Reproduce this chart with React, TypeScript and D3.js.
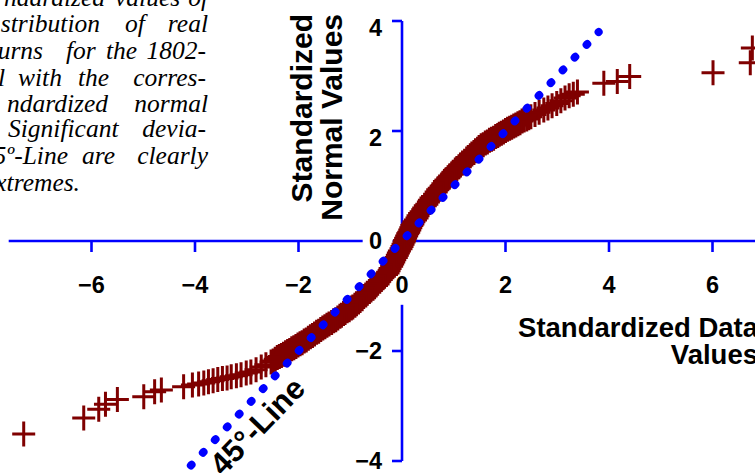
import * as d3 from 'd3'

// sorted standardized data values against the standardized normal values
const dataValues = [
  -7.31, -6.15, -5.86, -5.73, -5.5, -4.99, -4.78, -4.65, -4.22,
  -4.05, -3.93, -3.83, -3.74, -3.65, -3.56, -3.47, -3.38, -3.3, -3.2, -3.11, -3.01, -2.92,
  -2.82, -2.72, -2.63,
  -2.53, -2.49, -2.45, -2.41, -2.37, -2.33, -2.29, -2.25, -2.21, -2.17, -2.13, -2.09,
  -2.05, -2.01, -1.97, -1.93, -1.89, -1.85, -1.81, -1.77, -1.73, -1.69, -1.65, -1.61,
  -1.57, -1.53, -1.49, -1.45, -1.41, -1.36, -1.32, -1.28, -1.24, -1.2, -1.17, -1.13,
  -1.1, -1.06, -1.02, -0.98, -0.95, -0.91, -0.88, -0.84, -0.81, -0.77, -0.74, -0.7,
  -0.67, -0.63, -0.6, -0.56, -0.53, -0.5, -0.47, -0.43, -0.4, -0.37, -0.34, -0.3,
  -0.27, -0.25, -0.23, -0.2, -0.18, -0.16, -0.14, -0.11, -0.09, -0.07, -0.05, -0.02,
  0.0, 0.02, 0.04, 0.05, 0.07, 0.09, 0.11, 0.13, 0.15, 0.17, 0.19, 0.21, 0.23, 0.26,
  0.29, 0.31, 0.34, 0.37, 0.4, 0.42, 0.45, 0.48, 0.51, 0.53, 0.56, 0.59, 0.63, 0.66,
  0.69, 0.72, 0.76, 0.79, 0.82, 0.85, 0.89, 0.92, 0.96, 0.99, 1.03, 1.06, 1.1, 1.13,
  1.17, 1.21, 1.25, 1.28, 1.32, 1.35, 1.39, 1.42, 1.46, 1.49, 1.53, 1.57, 1.61, 1.65,
  1.69, 1.73, 1.77, 1.81, 1.85, 1.88, 1.92, 1.96, 2.0, 2.04, 2.08, 2.12, 2.16, 2.2,
  2.24, 2.28, 2.32, 2.36, 2.41, 2.45, 2.49,
  2.57, 2.65, 2.74, 2.82, 2.9, 2.99, 3.07, 3.15, 3.23, 3.31, 3.39,
  3.9, 4.16, 4.4, 6.01, 6.73, 6.77,
]
const normalValues = [
  -3.51, -3.22, -3.06, -2.97, -2.88, -2.83, -2.74, -2.71, -2.65,
  -2.62, -2.6, -2.58, -2.56, -2.54, -2.52, -2.5, -2.49, -2.47, -2.45, -2.43, -2.4, -2.38,
  -2.34, -2.29, -2.25,
  -2.2, -2.18, -2.15, -2.12, -2.1, -2.08, -2.06, -2.03, -2.01, -1.99, -1.96, -1.94,
  -1.92, -1.89, -1.87, -1.85, -1.82, -1.8, -1.77, -1.74, -1.72, -1.69, -1.66, -1.64,
  -1.61, -1.58, -1.56, -1.53, -1.51, -1.48, -1.45, -1.43, -1.4, -1.37, -1.35, -1.32,
  -1.3, -1.27, -1.25, -1.22, -1.2, -1.17, -1.14, -1.11, -1.08, -1.05, -1.01, -0.98,
  -0.95, -0.92, -0.89, -0.86, -0.83, -0.8, -0.77, -0.73, -0.7, -0.67, -0.64, -0.61,
  -0.58, -0.54, -0.5, -0.46, -0.42, -0.38, -0.34, -0.3, -0.26, -0.22, -0.18, -0.14,
  -0.1, -0.06, -0.02, 0.01, 0.05, 0.09, 0.13, 0.16, 0.2, 0.24, 0.28, 0.31, 0.35, 0.38,
  0.42, 0.46, 0.5, 0.53, 0.57, 0.6, 0.64, 0.67, 0.71, 0.74, 0.78, 0.81, 0.85, 0.89,
  0.93, 0.96, 1.0, 1.04, 1.08, 1.11, 1.15, 1.18, 1.22, 1.25, 1.29, 1.32, 1.35, 1.38,
  1.42, 1.45, 1.49, 1.52, 1.55, 1.58, 1.61, 1.64, 1.67, 1.7, 1.73, 1.75, 1.78, 1.8,
  1.83, 1.85, 1.87, 1.9, 1.92, 1.94, 1.96, 1.98, 2.01, 2.03, 2.05, 2.07, 2.09, 2.11,
  2.13, 2.15, 2.18, 2.2, 2.22, 2.24, 2.26,
  2.3, 2.34, 2.38, 2.42, 2.46, 2.5, 2.55, 2.6, 2.64, 2.67, 2.71,
  2.87, 2.9, 2.99, 3.06, 3.24, 3.51,
]

const xTicks = [-6, -4, -2, 0, 2, 4, 6]
const yTicks = [-4, -2, 0, 2, 4]
const lineRange = [-4.08, 3.8]

const xTitle = ['Standardized Data', 'Values']
const yTitle = ['Standardized', 'Normal Values']

// caption, only the part that shows. [word, x, anchor]
const caption = [
  { y: 6, words: [['ndardized', 105, 'end'], ['values', 115, 'start'], ['of', 208, 'end']] },
  { y: 32, words: [['stribution', 100, 'end'], ['of', 125, 'start'], ['real', 208, 'end']] },
  { y: 59, words: [['urns', 43, 'end'], ['for', 66, 'start'], ['the', 106, 'start'], ['1802-', 206, 'end']] },
  { y: 86, words: [['l', 5, 'end'], ['with', 18, 'start'], ['the', 78, 'start'], ['corres-', 206, 'end']] },
  { y: 112, words: [['ndardized', 108, 'end'], ['normal', 208, 'end']] },
  { y: 137, words: [['Significant', 8, 'start'], ['devia-', 206, 'end']] },
  { y: 164, words: [['5º-Line', 68, 'end'], ['are', 82, 'start'], ['clearly', 208, 'end']] },
  { y: 191, words: [['xtremes.', 80, 'end']] },
]

const sans = '"Liberation Sans", Arial, Helvetica, sans-serif'
const serif = '"Liberation Serif", "Times New Roman", serif'
const BLUE = '#0000ff'
const MAROON = '#7f0000'

export default function App() {
  const width = 755
  const height = 473

  const x = d3.scaleLinear().domain([-6, 6]).range([91.5, 712.5])
  const y = d3.scaleLinear().domain([-4, 4]).range([461, 21])
  const fmt = d3.format('d')

  const plus = 'M-11.5,0H11.5M0,-12.5V12.5'
  const refPath = d3.line()(lineRange.map((v) => [x(v), y(v)] as [number, number]))

  // axis lines are broken where the "0" labels sit
  const xSegments = [[-7.6, -0.76], [-0.18, 7]]
  const ySegments = [[-0.44, 4], [-4, -1.16]]

  return (
    <svg
      width={width}
      height={height}
      style={{ position: 'absolute', left: 0, top: 0, background: '#fff' }}
    >
      <g stroke={BLUE} strokeWidth={2.6} fill="none">
        {xSegments.map(([a, b], i) => (
          <line key={'xs' + i} x1={x(a)} x2={x(b)} y1={y(0)} y2={y(0)} />
        ))}
        {ySegments.map(([a, b], i) => (
          <line key={'ys' + i} x1={x(0)} x2={x(0)} y1={y(a)} y2={y(b)} />
        ))}
        {xTicks
          .filter((t) => t !== 0)
          .map((t) => (
            <line key={'xt' + t} x1={x(t)} x2={x(t)} y1={y(0)} y2={y(0) + 11} />
          ))}
        {yTicks
          .filter((t) => t !== 0)
          .map((t) => (
            <line key={'yt' + t} x1={x(0) - 10} x2={x(0)} y1={y(t)} y2={y(t)} />
          ))}
      </g>

      <g fontFamily={sans} fontWeight="bold" fontSize={23.5} fill="#000">
        {xTicks.map((t) => (
          <text key={'xl' + t} x={x(t)} y={293} textAnchor="middle">
            {fmt(t)}
          </text>
        ))}
        {yTicks.map((t) => (
          <text
            key={'yl' + t}
            x={382}
            y={y(t) + (t > 0 ? 7 : 0)}
            textAnchor="end"
            dominantBaseline="central"
          >
            {fmt(t)}
          </text>
        ))}
      </g>

      <g stroke={MAROON} strokeWidth={3} fill="none">
        {dataValues.map((v, i) => (
          <path key={i} d={plus} transform={`translate(${x(v)},${y(normalValues[i])})`} />
        ))}
      </g>

      <path
        d={refPath ?? ''}
        stroke={BLUE}
        strokeWidth={8}
        strokeLinecap="round"
        strokeDasharray="1 16.5"
        fill="none"
      />

      <text
        transform="translate(223,477) rotate(-46)"
        fontFamily={sans}
        fontWeight="bold"
        fontSize={31}
      >
        45°-Line
      </text>

      <g fontFamily={sans} fontWeight="bold" textAnchor="end">
        {xTitle.map((s, i) => (
          <text key={s} x={758} y={337 + i * 26.5} fontSize={27.5}>
            {s}
          </text>
        ))}
        {yTitle.map((s, i) => (
          <text key={s} transform={`translate(${312 + i * 30},14) rotate(-90)`} fontSize={30}>
            {s}
          </text>
        ))}
      </g>

      <g fontFamily={serif} fontStyle="italic" fontSize={25.5}>
        {caption.map((line) =>
          line.words.map(([w, px, anchor]) => (
            <text key={line.y + String(w)} x={px} y={line.y} textAnchor={anchor as string}>
              {w}
            </text>
          ))
        )}
      </g>
    </svg>
  )
}
